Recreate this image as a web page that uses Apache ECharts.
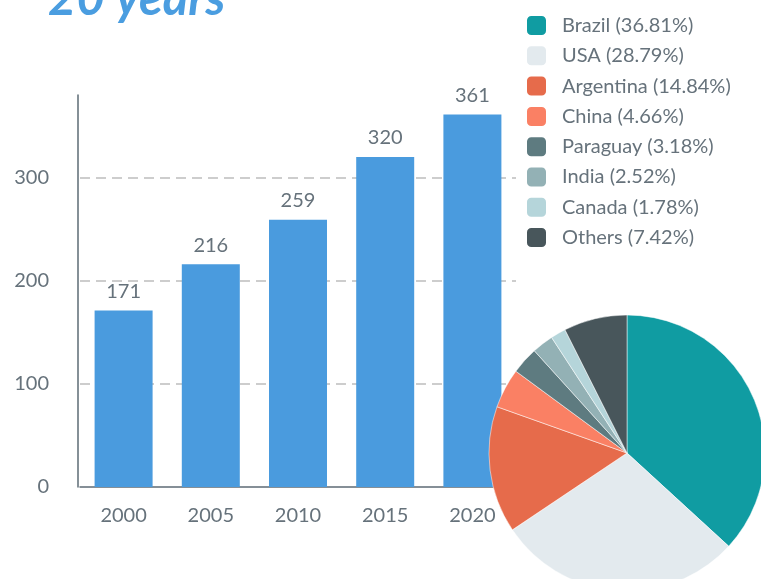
<!DOCTYPE html>
<html>
<head>
<meta charset="utf-8">
<script src="https://cdn.jsdelivr.net/npm/echarts@6/dist/echarts.min.js"></script>
<style>
  html, body { margin: 0; padding: 0; background: #fff; }
  #chart { width: 761px; height: 579px; }
</style>
</head>
<body>
<div id="chart"></div>
<script>
// bar series: production per year
const years = ["2000", "2005", "2010", "2015", "2020"];
const production = [171, 216, 259, 320, 361];

// pie series: share by country (%)
const countries = ["Brazil", "USA", "Argentina", "China", "Paraguay", "India", "Canada", "Others"];
const shares = [36.81, 28.79, 14.84, 4.66, 3.18, 2.52, 1.78, 7.42];
const shareColors = ["#109ca2", "#e3eaee", "#e66b4b", "#fa8064", "#5e7b80", "#93b1b5", "#b5d5da", "#48565b"];

const TEXT_GRAY = "#66727b";
const FONT = "Lato";
const FS = 20;

const chart = echarts.init(document.getElementById("chart"));

chart.setOption({
  animation: false,
  textStyle: { fontFamily: FONT },
  title: {
    text: "20 years",
    left: 43,
    top: -30,
    textStyle: { fontFamily: FONT, fontSize: 49, fontStyle: "italic", fontWeight: "bold", color: "#4a9de0" }
  },
  grid: { left: 80, top: 95, width: 436, height: 392, containLabel: false },
  xAxis: {
    type: "category",
    data: years,
    axisLine: { lineStyle: { color: "#5d6b75", width: 1.5 } },
    axisTick: { show: false },
    axisLabel: { color: TEXT_GRAY, fontSize: FS, margin: 19 }
  },
  yAxis: {
    type: "value",
    min: 0,
    max: 380,
    interval: 100,
    offset: 2,
    axisLine: { show: true, lineStyle: { color: "#5d6b75", width: 1.5 } },
    axisTick: { show: false },
    axisLabel: { color: TEXT_GRAY, fontSize: FS, margin: 29, showMaxLabel: false },
    splitLine: {
      show: true, showMinLine: false, showMaxLine: false,
      lineStyle: { color: "#bdbdbd", type: [10, 6], width: 1.5 }
    }
  },
  legend: {
    orient: "vertical",
    left: 520,
    top: 9,
    itemWidth: 21,
    itemHeight: 21,
    itemGap: 7.3,
    icon: "roundRect",
    data: countries,
    textStyle: { color: TEXT_GRAY, fontSize: FS, padding: [0, 0, 0, 10] },
    formatter: (name) => {
      const i = countries.indexOf(name);
      return `${name} (${shares[i].toFixed(2)}%)`;
    }
  },
  series: [
    {
      type: "bar",
      data: production,
      barWidth: 58,
      itemStyle: { color: "#4a9bde" },
      label: { show: true, position: "top", distance: 9, color: TEXT_GRAY, fontSize: FS }
    },
    {
      type: "pie",
      center: [627, 453],
      radius: 138,
      startAngle: 90,
      clockwise: true,
      label: { show: false },
      labelLine: { show: false },
      itemStyle: { borderColor: "#ffffff", borderWidth: 0.5 },
      data: countries.map((name, i) => ({ name, value: shares[i], itemStyle: { color: shareColors[i] } }))
    }
  ]
});
</script>
</body>
</html>
